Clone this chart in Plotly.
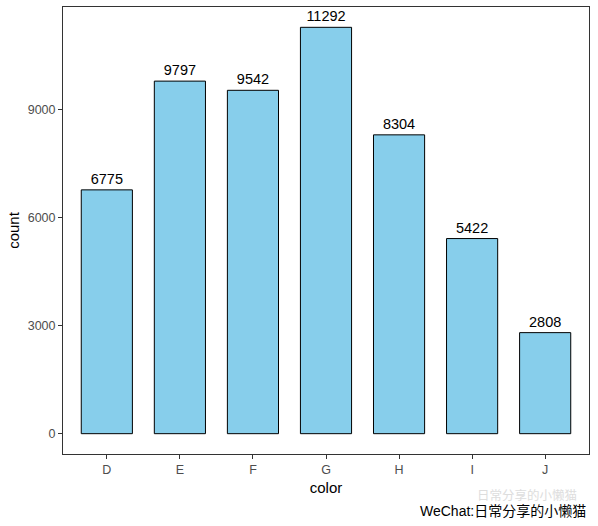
import plotly.graph_objects as go

categories = ["D", "E", "F", "G", "H", "I", "J"]
counts = [6775, 9797, 9542, 11292, 8304, 5422, 2808]
y_ticks = [0, 3000, 6000, 9000]

ymax = max(counts)
pad = ymax * 0.05

fig = go.Figure(go.Bar(
    x=categories, y=counts, width=0.7,
    marker=dict(color="#87CEEB", line=dict(color="black", width=1)),
    text=[str(v) for v in counts], textposition="outside",
    textfont=dict(family="Liberation Sans, Arial", size=14.5, color="black"),
    cliponaxis=False,
))

axis_common = dict(
    showline=True, linecolor="#333333", linewidth=1, mirror=True,
    ticks="outside", ticklen=4, tickcolor="#333333", tickwidth=1,
    showgrid=False, zeroline=False, automargin=False,
    tickfont=dict(family="Liberation Sans, Arial", size=12.5, color="#4d4d4d"),
)

fig.update_layout(
    width=598, height=526,
    margin=dict(l=63, r=9, t=7, b=72),
    paper_bgcolor="white", plot_bgcolor="white",
    showlegend=False,
    uniformtext=dict(mode=False),
    xaxis=dict(**axis_common, range=[-0.6, 6.6],
               title=dict(text="color", standoff=6,
                          font=dict(family="Liberation Sans, Arial", size=15, color="black"))),
    yaxis=dict(**axis_common, range=[-pad, ymax + pad], tickvals=y_ticks,
               title=dict(text="count", standoff=4,
                          font=dict(family="Liberation Sans, Arial", size=15, color="black"))),
)

fig.add_annotation(
    text="日常分享的小懒猫", xref="paper", yref="paper",
    x=(579 - 63) / 526, y=-(494 - 454) / 447, xanchor="right", yanchor="middle",
    showarrow=False, font=dict(family="Noto Sans CJK SC", size=12.5, color="#dddddd"),
)
fig.add_annotation(
    text="WeChat:日常分享的小懒猫", xref="paper", yref="paper",
    x=(588 - 63) / 526, y=-(511 - 454) / 447, xanchor="right", yanchor="middle",
    showarrow=False, font=dict(family="Liberation Sans, Noto Sans CJK SC", size=14, color="black"),
)

fig.write_html("out.html", config={"displayModeBar": False},
               post_script="document.body.style.margin='0';")
